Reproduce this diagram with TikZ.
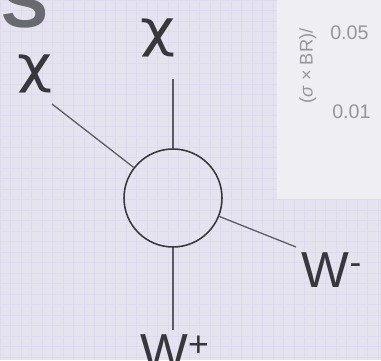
\documentclass[tikz,border=0pt]{standalone}
\usepackage{fontspec}
\setmainfont{Liberation Sans}
\newfontfamily\greekfont{DejaVu Sans}
\definecolor{paper}{RGB}{229,227,240}
\definecolor{gridc}{RGB}{222,220,236}
\definecolor{panel}{RGB}{239,238,243}
\definecolor{ink}{RGB}{55,55,60}
\definecolor{linec}{RGB}{90,90,98}
\definecolor{faint}{RGB}{150,150,158}
\definecolor{titlec}{RGB}{105,105,112}
\begin{document}
\begin{tikzpicture}[x=0.25mm,y=-0.25mm,
  leg/.style={draw=linec,line width=0.9pt},
  lbl/.style={text=ink,font=\fontsize{36}{36}\selectfont,inner sep=0pt},
  chil/.style={lbl,font=\greekfont\fontsize{36}{36}\selectfont,xscale=1.2},
  axl/.style={text=faint,font=\fontsize{13}{13}\selectfont,inner sep=0pt}]
\useasboundingbox (0,0) rectangle (381,360);
\fill[paper] (0,0) rectangle (381,360);
\foreach \i in {0,...,36} {
  \draw[gridc,line width=0.4pt] (\i*10.5,0) -- (\i*10.5,360);
  \draw[gridc,line width=0.4pt] (0,\i*10.5) -- (381,\i*10.5);
}
% panel top right
\fill[panel] (277,0) rectangle (381,199);
\node[axl,rotate=90] (ylab) at (308,66) {(\textit{σ} × BR)/};
\node[axl,anchor=west,font=\fontsize{14}{14}\selectfont] (t05) at (330,33) {0.05};
\node[axl,anchor=west,font=\fontsize{14}{14}\selectfont] (t01) at (332,112) {0.01};
% partial title letter
\node[text=titlec,font=\bfseries\fontsize{50}{50}\selectfont,inner sep=0pt] (ttl) at (25,3) {S};
% blob
\node[draw=ink,line width=1.1pt,circle,minimum size=24.5mm,inner sep=0pt] (blob) at (173,198) {};
\coordinate (ctop) at (173,79);
\coordinate (cleft) at (52,104);
\coordinate (cright) at (296,247);
\coordinate (cbot) at (173,330);
\draw[leg] (blob) -- (ctop);
\draw[leg] (blob) -- (cleft);
\draw[leg] (blob) -- (cright);
\draw[leg] (blob) -- (cbot);
\node[chil] (chitop) at (158,38) {χ};
\node[chil] (chileft) at (35,74) {χ};
\node[lbl] (wm) at (332,270) {W\textsuperscript{-}};
\node[lbl,anchor=north] (wp) at (175,334) {W\textsuperscript{+}};
\end{tikzpicture}
\end{document}
